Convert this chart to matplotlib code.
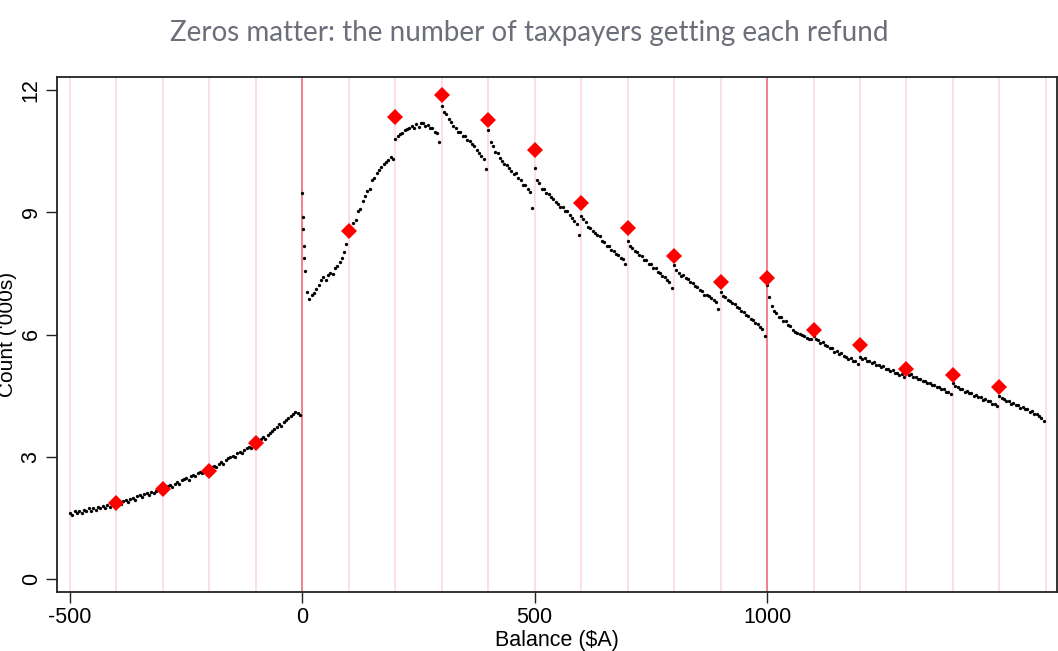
import numpy as np
import matplotlib.pyplot as plt

# Refund balance ($A) blocks of 100, one dot every $5, counts in '000s
block_start = [-500, -400, -300, -200, -100, 0, 100, 200, 300, 400, 500,
               600, 700, 800, 900, 1000, 1100, 1200, 1300, 1400, 1500]
dot_counts = [
    [1.62, 1.58, 1.66, 1.61, 1.68, 1.63, 1.70, 1.66, 1.73, 1.68,
     1.74, 1.70, 1.77, 1.73, 1.79, 1.75, 1.81, 1.77, 1.84, 1.79],
    [1.85, 1.88, 1.84, 1.91, 1.93, 1.88, 1.96, 1.99, 1.95, 2.03,
     2.05, 2.00, 2.08, 2.11, 2.07, 2.14, 2.10, 2.17, 2.20, 2.16],
    [2.23, 2.19, 2.27, 2.30, 2.26, 2.34, 2.37, 2.33, 2.42, 2.45,
     2.49, 2.44, 2.53, 2.56, 2.52, 2.59, 2.63, 2.59, 2.67, 2.70],
    [2.71, 2.75, 2.78, 2.74, 2.83, 2.87, 2.83, 2.92, 2.96, 2.99,
     3.03, 2.99, 3.08, 3.12, 3.08, 3.17, 3.21, 3.25, 3.21, 3.31],
    [3.39, 3.34, 3.43, 3.48, 3.44, 3.54, 3.59, 3.63, 3.67, 3.73,
     3.81, 3.76, 3.86, 3.91, 3.95, 4.00, 4.05, 4.11, 4.07, 4.03],
    [9.48, 7.55, 7.05, 6.88, 6.97, 7.02, 7.12, 7.22, 7.34, 7.42,
     7.33, 7.47, 7.52, 7.48, 7.62, 7.68, 7.78, 7.88, 8.02, 8.22],
    [8.60, 8.62, 8.74, 8.82, 9.02, 9.08, 9.27, 9.40, 9.52, 9.58,
     9.78, 9.84, 9.97, 10.04, 10.12, 10.18, 10.24, 10.28, 10.36, 10.30],
    [10.80, 10.86, 10.92, 10.95, 11.02, 11.04, 11.08, 11.12, 11.06, 11.16,
     11.10, 11.18, 11.20, 11.12, 11.14, 11.08, 11.06, 10.98, 10.94, 10.72],
    [11.62, 11.45, 11.40, 11.28, 11.22, 11.12, 11.06, 10.98, 10.96, 10.88,
     10.86, 10.78, 10.76, 10.68, 10.62, 10.52, 10.46, 10.38, 10.30, 10.06],
    [11.02, 10.72, 10.62, 10.48, 10.46, 10.34, 10.26, 10.18, 10.16, 10.08,
     10.02, 9.94, 9.96, 9.84, 9.80, 9.68, 9.66, 9.58, 9.50, 9.10],
    [10.08, 9.78, 9.72, 9.58, 9.56, 9.48, 9.46, 9.38, 9.32, 9.24,
     9.20, 9.14, 9.12, 9.04, 9.02, 8.94, 8.86, 8.78, 8.72, 8.45],
    [8.90, 8.84, 8.76, 8.64, 8.62, 8.54, 8.50, 8.44, 8.42, 8.30,
     8.26, 8.18, 8.16, 8.08, 8.06, 7.98, 7.96, 7.88, 7.86, 7.72],
    [8.30, 8.18, 8.12, 8.04, 8.02, 7.94, 7.92, 7.84, 7.82, 7.74,
     7.72, 7.64, 7.62, 7.54, 7.52, 7.44, 7.42, 7.34, 7.30, 7.14],
    [7.70, 7.58, 7.52, 7.44, 7.46, 7.38, 7.36, 7.28, 7.26, 7.18,
     7.16, 7.08, 7.06, 6.98, 6.96, 6.94, 6.90, 6.84, 6.80, 6.62],
    [7.05, 6.94, 6.92, 6.84, 6.82, 6.78, 6.76, 6.68, 6.66, 6.58,
     6.56, 6.48, 6.46, 6.38, 6.36, 6.28, 6.26, 6.18, 6.14, 5.96],
    [7.22, 6.92, 6.70, 6.58, 6.52, 6.44, 6.42, 6.34, 6.32, 6.24,
     6.22, 6.10, 6.06, 6.04, 6.02, 5.98, 5.96, 5.92, 5.90, 5.88],
    [5.96, 5.88, 5.86, 5.80, 5.82, 5.74, 5.72, 5.66, 5.66, 5.58,
     5.60, 5.52, 5.54, 5.48, 5.46, 5.40, 5.42, 5.36, 5.36, 5.28],
    [5.46, 5.40, 5.42, 5.36, 5.36, 5.30, 5.32, 5.26, 5.26, 5.20,
     5.22, 5.16, 5.16, 5.10, 5.12, 5.06, 5.06, 5.00, 5.02, 4.96],
    [5.06, 5.00, 5.02, 4.96, 4.96, 4.90, 4.92, 4.86, 4.86, 4.80,
     4.82, 4.76, 4.76, 4.70, 4.72, 4.66, 4.66, 4.60, 4.60, 4.54],
    [4.80, 4.74, 4.72, 4.66, 4.66, 4.60, 4.62, 4.56, 4.56, 4.50,
     4.52, 4.46, 4.46, 4.40, 4.42, 4.36, 4.36, 4.30, 4.30, 4.24],
    [4.50, 4.44, 4.42, 4.36, 4.36, 4.30, 4.32, 4.26, 4.26, 4.20,
     4.22, 4.16, 4.16, 4.10, 4.12, 4.06, 4.04, 4.00, 3.96, 3.88],
]
dot_step = 5

# the spike right after a zero balance
spike_x = [1, 2, 3, 4]
spike_y = [8.89, 8.58, 8.16, 7.87]

# round-number refunds
round_x = [-400, -300, -200, -100, 100, 200, 300, 400, 500, 600, 700,
           800, 900, 1000, 1100, 1200, 1300, 1400, 1500]
round_y = [1.86, 2.21, 2.66, 3.33, 8.54, 11.33, 11.89, 11.26, 10.54, 9.22,
           8.62, 7.93, 7.30, 7.38, 6.11, 5.74, 5.15, 5.00, 4.72]

x_ticks = [-500, 0, 500, 1000]
y_ticks = [0, 3, 6, 9, 12]

dots_x = []
dots_y = []
for start, vals in zip(block_start, dot_counts):
    for i, v in enumerate(vals):
        dots_x.append(start + i * dot_step)
        dots_y.append(v)
dots_x += spike_x
dots_y += spike_y

plt.rcParams['font.family'] = ['Liberation Sans', 'DejaVu Sans']
plt.rcParams['axes.unicode_minus'] = False

fig = plt.figure(figsize=(10.58, 6.51), dpi=100)
ax = fig.add_axes([57 / 1058, 59 / 651, 1000 / 1058, 515 / 651])

# vertical guide lines every 100, red at 0 and 1000
for g in range(-500, 1601, 100):
    if g in (0, 1000):
        ax.axvline(g, color='#ef6b77', lw=1.2, zorder=1)
    else:
        ax.axvline(g, color='#fbdfe4', lw=1.4, zorder=0)

ax.plot(dots_x, dots_y, 'o', color='black', ms=2.4, mew=0, zorder=3)
ax.plot(round_x, round_y, 'D', color='#ff0000', ms=8.5, mew=0, zorder=4)

ax.set_xlim(-528, 1624)
ax.set_ylim(-0.32, 12.32)
ax.set_xticks(x_ticks)
ax.set_yticks(y_ticks)
ax.tick_params(axis='both', length=8, width=1, labelsize=15.5, color='#222222', pad=3)
plt.setp(ax.get_yticklabels(), rotation=90, va='center')
for s in ax.spines.values():
    s.set_color('#222222')
    s.set_linewidth(1.3)

ax.set_xlabel("Balance ($A)", fontsize=15.5, labelpad=1)
ax.set_ylabel("Count ('000s)", fontsize=15)
ax.yaxis.set_label_coords(-40 / 1000, 0.5)

fig.text(0.5, 1 - 33 / 651, "Zeros matter: the number of taxpayers getting each refund",
         ha='center', va='center', fontsize=20, color='#6c6f7a', family=['Lato', 'DejaVu Sans'])

fig.savefig('out.png', dpi=100)
